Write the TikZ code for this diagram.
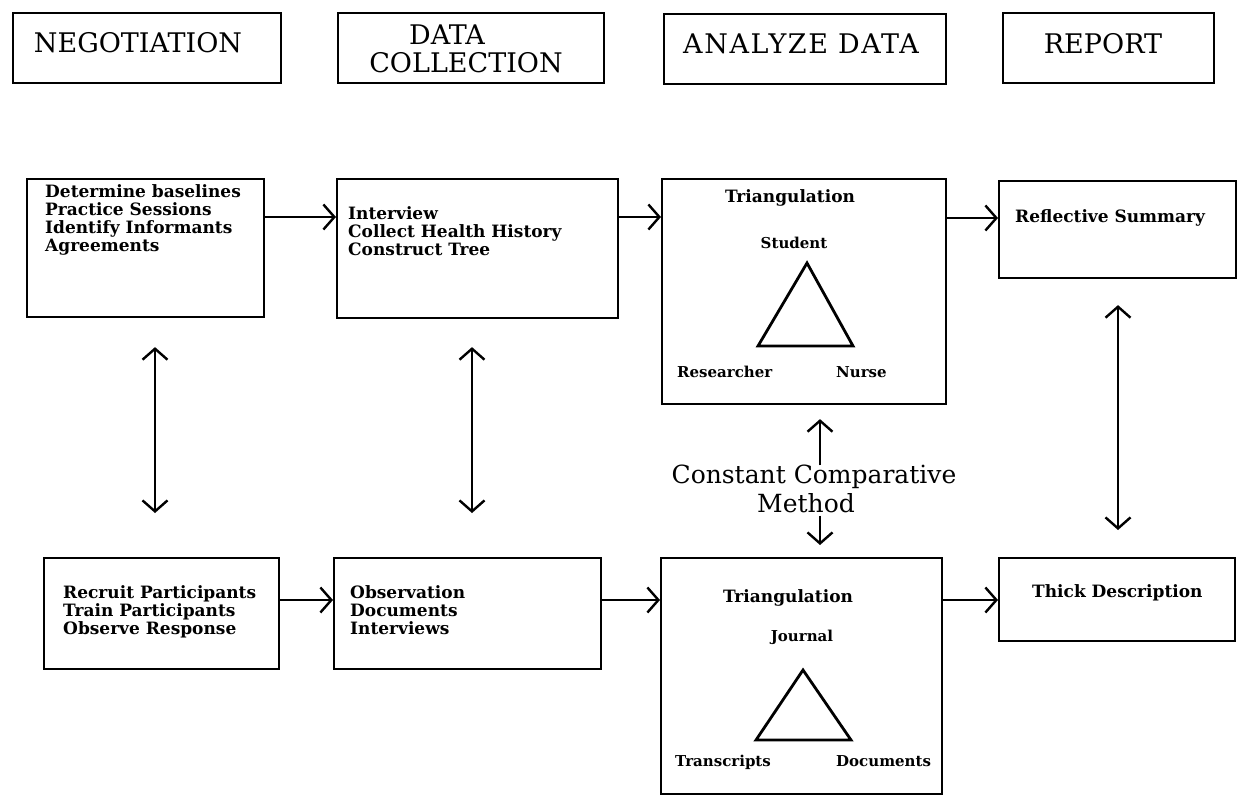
\documentclass[tikz,border=0pt]{standalone}
\usepackage{fontspec}
\setmainfont{DejaVu Serif}
\usetikzlibrary{arrows.meta,calc}
\begin{document}
\begin{tikzpicture}[x=1pt,y=-1pt,
  box/.style={draw, line width=2.1pt, rectangle, inner sep=0pt, anchor=north west},
  head/.style={font=\fontsize{27}{28}\selectfont, anchor=base, inner sep=0pt},
  body/.style={font=\bfseries\fontsize{17}{17}\selectfont, anchor=base west, inner sep=0pt},
  small/.style={font=\bfseries\fontsize{15}{15}\selectfont, anchor=base west, inner sep=0pt},
  big/.style={font=\fontsize{25}{29}\selectfont, anchor=base, inner sep=0pt},
  barb/.tip={Straight Barb[length=11pt,width=25pt,line width=2.4pt]},
  arr/.style={-barb, line width=2.4pt},
  dbl/.style={barb-barb, line width=2.4pt},
  tri/.style={line width=2.8pt, line join=miter}]
\useasboundingbox (0,0) rectangle (1238,795);

% phase headers
\node[box, minimum width=268pt, minimum height=70pt] (hNeg) at (12,12) {};
\node[box, minimum width=266pt, minimum height=70pt] (hData) at (337,12) {};
\node[box, minimum width=282pt, minimum height=70pt] (hAna) at (663,13) {};
\node[box, minimum width=211pt, minimum height=70pt] (hRep) at (1002,12) {};
\node[head] (tNeg) at (138,52) {NEGOTIATION};
\node[head] (tData1) at (447,44) {DATA};
\node[head] (tData2) at (466,72) {COLLECTION};
\node[head] (tAna) at (801,53) {\addfontfeature{LetterSpace=6}ANALYZE DATA};
\node[head] (tRep) at (1103,53) {REPORT};

% upper row
\node[box, minimum width=237pt, minimum height=138pt] (A) at (26,178) {};
\node[box, minimum width=281pt, minimum height=139pt] (B) at (336,178) {};
\node[box, minimum width=284pt, minimum height=225pt] (C) at (661,178) {};
\node[box, minimum width=237pt, minimum height=97pt] (D) at (998,180) {};

\node[body] (a1) at (45,197) {Determine baselines};
\node[body] (a2) at (45,215) {Practice Sessions};
\node[body] (a3) at (45,233) {Identify Informants};
\node[body] (a4) at (45,251) {Agreements};

\node[body] (b1) at (348,219) {Interview};
\node[body] (b2) at (348,237) {Collect Health History};
\node[body] (b3) at (348,255) {Construct Tree};

\node[body, anchor=base] (c1) at (790,202) {Triangulation};
\node[small, anchor=base] (c2) at (794,248) {Student};
\node[small] (c3) at (677,377) {Researcher};
\node[small] (c4) at (836,377) {Nurse};
\draw[tri] (807,263) -- (758,346) -- (853,346) -- cycle;

\node[body] (d1) at (1015,222) {Reflective Summary};

% lower row
\node[box, minimum width=235pt, minimum height=111pt] (E) at (43,557) {};
\node[box, minimum width=267pt, minimum height=111pt] (F) at (333,557) {};
\node[box, minimum width=281pt, minimum height=236pt] (G) at (660,557) {};
\node[box, minimum width=236pt, minimum height=83pt] (H) at (998,557) {};

\node[body] (e1) at (63,598) {Recruit Participants};
\node[body] (e2) at (63,616) {Train Participants};
\node[body] (e3) at (63,634) {Observe Response};

\node[body] (f1) at (350,598) {Observation};
\node[body] (f2) at (350,616) {Documents};
\node[body] (f3) at (350,634) {Interviews};

\node[body, anchor=base] (g1) at (788,602) {Triangulation};
\node[small, anchor=base] (g2) at (802,641) {Journal};
\node[small] (g3) at (675,766) {Transcripts};
\node[small] (g4) at (836,766) {Documents};
\draw[tri] (803,670) -- (756,740) -- (851,740) -- cycle;

\node[body] (h1) at (1032,597) {Thick Description};

% method label between the triangulation boxes
\node[big] (m1) at (814,483) {Constant Comparative};
\node[big] (m2) at (806,512) {Method};

% flow arrows
\draw[arr] ([yshift=-39pt]A.north east) -- ([yshift=-39pt]B.north west);
\draw[arr] ([yshift=-39pt]B.north east) -- ([yshift=-39pt]C.north west);
\draw[arr] ([yshift=-40pt]C.north east) -- ([yshift=-38pt]D.north west);
\draw[arr] ([yshift=-43pt]E.north east) -- ([yshift=-43pt]F.north west);
\draw[arr] ([yshift=-43pt]F.north east) -- ([yshift=-43pt]G.north west);
\draw[arr] ([yshift=-43pt]G.north east) -- ([yshift=-43pt]H.north west);

% two-way links between rows
\coordinate (v1) at (155,0);
\coordinate (v2) at (472,0);
\coordinate (v3) at (1118,0);
\coordinate (vm) at (820,0);
\draw[dbl, shorten <=29pt, shorten >=44pt] (A.south -| v1) -- (E.north -| v1);
\draw[dbl, shorten <=28pt, shorten >=44pt] (B.south -| v2) -- (F.north -| v2);
\draw[dbl, shorten <=26pt, shorten >=27pt] (D.south -| v3) -- (H.north -| v3);
\draw[arr, shorten <=-1pt, shorten >=14pt] (m1.north -| vm) -- (C.south -| vm);
\draw[arr, shorten <=3pt, shorten >=12pt] (m2.south -| vm) -- (G.north -| vm);
\end{tikzpicture}
\end{document}
